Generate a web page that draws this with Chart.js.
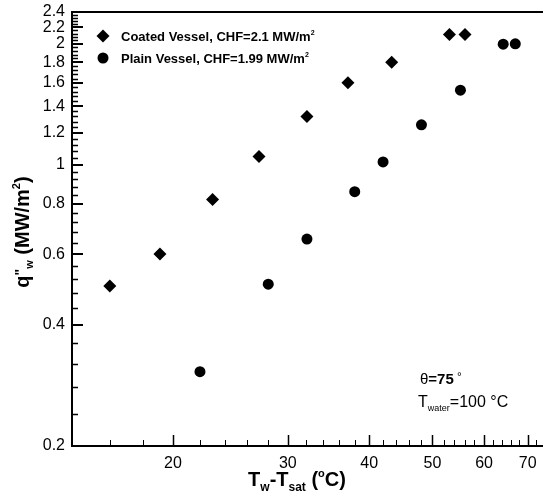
<!DOCTYPE html>
<html>
<head>
<meta charset="utf-8">
<script src="https://cdn.jsdelivr.net/npm/chart.js@4.4.1/dist/chart.umd.min.js"></script>
<style>
  html, body { margin: 0; padding: 0; background: #fff; overflow: hidden; }
  #wrap { width: 543px; height: 493px; overflow: hidden; }
</style>
</head>
<body>
<div id="wrap"><canvas id="boilChart" width="548" height="493"></canvas></div>
<script>
// wall superheat (C) and heat flux (MW/m2)
const coatedX = [16.0, 19.1, 23.0, 27.1, 32.1, 37.1, 43.3, 53.1, 56.1];
const coatedY = [0.50, 0.60, 0.82, 1.05, 1.32, 1.60, 1.80, 2.11, 2.11];
const plainX = [22.0, 28.0, 32.1, 38.0, 42.0, 48.1, 55.2, 64.2, 67.0];
const plainY = [0.306, 0.505, 0.654, 0.858, 1.017, 1.258, 1.534, 1.996, 2.0];

const xTickValues = [20, 30, 40, 50, 60, 70];
const xTickLabels = ['20', '30', '40', '50', '60', '70'];
const yTickValues = [0.2, 0.4, 0.6, 0.8, 1, 1.2, 1.4, 1.6, 1.8, 2, 2.2, 2.4];
const yTickLabels = ['0.2', '0.4', '0.6', '0.8', '1', '1.2', '1.4', '1.6', '1.8', '2', '2.2', '2.4'];

const seriesNames = ['Coated Vessel, CHF=2.1 MW/m', 'Plain Vessel, CHF=1.99 MW/m'];

const FONT = '"Liberation Sans", Arial, sans-serif';

// minor ticks: every 2 C on x, every 0.04 on y
const xMinor = [];
for (let v = 16; v <= 72; v += 2) {
  if (xTickValues.indexOf(v) < 0) xMinor.push(v);
}
const yMinor = [];
for (let i = 5; i <= 60; i++) {
  const v = Math.round(i * 4) / 100;
  if (i % 5 !== 0) yMinor.push(v);
}

function toPoints(xs, ys) {
  return xs.map((x, i) => ({ x: x, y: ys[i] }));
}

function font(size, bold) {
  return (bold ? 'bold ' : '') + size + 'px ' + FONT;
}

// draw a run of text pieces (normal / sub / sup), aligned around x
function drawRich(ctx, x, y, parts, align) {
  let total = 0;
  parts.forEach(p => {
    ctx.font = font(p.size, p.bold);
    p.w = ctx.measureText(p.t).width;
    total += p.w;
  });
  let cx = align === 'center' ? x - total / 2 : x;
  ctx.textAlign = 'left';
  ctx.textBaseline = 'alphabetic';
  parts.forEach(p => {
    ctx.font = font(p.size, p.bold);
    ctx.fillText(p.t, cx, y + (p.dy || 0));
    cx += p.w;
  });
}

const framePlugin = {
  id: 'frame',
  afterDraw(chart) {
    const ctx = chart.ctx;
    const a = chart.chartArea;
    const xs = chart.scales.x;
    const ys = chart.scales.y;
    ctx.save();
    ctx.strokeStyle = '#000';
    ctx.fillStyle = '#000';

    // axis box (right side runs off the page)
    ctx.lineWidth = 2;
    ctx.beginPath();
    ctx.moveTo(a.right + 5, a.top);
    ctx.lineTo(a.left, a.top);
    ctx.lineTo(a.left, a.bottom);
    ctx.lineTo(a.right + 5, a.bottom);
    ctx.stroke();

    // inward ticks
    ctx.lineWidth = 1.5;
    ctx.beginPath();
    xTickValues.forEach(v => {
      const px = Math.round(xs.getPixelForValue(v)) + 0.5;
      ctx.moveTo(px, a.bottom);
      ctx.lineTo(px, a.bottom - 11);
    });
    ctx.stroke();
    ctx.lineWidth = 1;
    ctx.beginPath();
    xMinor.forEach(v => {
      const px = Math.round(xs.getPixelForValue(v)) + 0.5;
      ctx.moveTo(px, a.bottom);
      ctx.lineTo(px, a.bottom - 6);
    });
    ctx.stroke();
    ctx.lineWidth = 2;
    ctx.beginPath();
    yTickValues.forEach(v => {
      const py = Math.round(ys.getPixelForValue(v));
      ctx.moveTo(a.left, py);
      ctx.lineTo(a.left + 11, py);
    });
    ctx.stroke();
    ctx.lineWidth = 1.5;
    ctx.beginPath();
    yMinor.forEach(v => {
      const py = Math.round(ys.getPixelForValue(v)) + 0.5;
      ctx.moveTo(a.left, py);
      ctx.lineTo(a.left + 6, py);
    });
    ctx.stroke();

    // legend
    const lx = 103;
    const rows = [36, 58];
    ctx.beginPath();
    ctx.moveTo(lx, rows[0] - 6.5);
    ctx.lineTo(lx + 6.5, rows[0]);
    ctx.lineTo(lx, rows[0] + 6.5);
    ctx.lineTo(lx - 6.5, rows[0]);
    ctx.closePath();
    ctx.fill();
    ctx.beginPath();
    ctx.arc(lx, rows[1], 5.5, 0, Math.PI * 2);
    ctx.fill();
    seriesNames.forEach((name, i) => {
      drawRich(ctx, 121, rows[i] + 4.5, [
        { t: name, size: 13, bold: true },
        { t: '2', size: 7, bold: true, dy: -6 }
      ], 'left');
    });

    // conditions note
    drawRich(ctx, 420, 384, [
      { t: '\u03b8', size: 15 },
      { t: '=75', size: 15, bold: true },
      { t: ' \u00b0', size: 12, dy: -3 }
    ], 'left');
    drawRich(ctx, 418, 407, [
      { t: 'T', size: 16 },
      { t: 'water', size: 9, dy: 4 },
      { t: '=100 \u00b0C', size: 16 }
    ], 'left');

    // x title
    drawRich(ctx, 297, 486, [
      { t: 'T', size: 20, bold: true },
      { t: 'w', size: 12, bold: true, dy: 5 },
      { t: '-T', size: 20, bold: true },
      { t: 'sat', size: 12, bold: true, dy: 5 },
      { t: ' (', size: 20, bold: true },
      { t: 'o', size: 11, bold: true, dy: -9 },
      { t: 'C)', size: 20, bold: true }
    ], 'center');

    // y title
    ctx.translate(29, 232);
    ctx.rotate(-Math.PI / 2);
    drawRich(ctx, 0, 0, [
      { t: 'q', size: 20, bold: true },
      { t: '"', size: 14, bold: true, dy: -4 },
      { t: 'w', size: 11, bold: true, dy: 4 },
      { t: ' (MW/m', size: 20, bold: true },
      { t: '2', size: 11, bold: true, dy: -9 },
      { t: ')', size: 20, bold: true }
    ], 'center');

    ctx.restore();
  }
};

const ctx = document.getElementById('boilChart').getContext('2d');
new Chart(ctx, {
  type: 'scatter',
  data: {
    datasets: [
      {
        label: seriesNames[0],
        data: toPoints(coatedX, coatedY),
        pointStyle: 'rectRot',
        pointRadius: 6.5,
        pointBackgroundColor: '#000',
        pointBorderColor: '#000',
        pointBorderWidth: 0,
      },
      {
        label: seriesNames[1],
        data: toPoints(plainX, plainY),
        pointStyle: 'circle',
        pointRadius: 5.5,
        pointBackgroundColor: '#000',
        pointBorderColor: '#000',
        pointBorderWidth: 0,
      },
    ],
  },
  options: {
    responsive: false,
    animation: false,
    layout: { padding: { top: 12, right: 0, left: 0, bottom: 0 } },
    plugins: {
      legend: { display: false },
      tooltip: { enabled: false },
    },
    scales: {
      x: {
        type: 'logarithmic',
        min: 14,
        max: 73.5,
        grid: { display: false, drawTicks: false },
        border: { display: false },
        afterBuildTicks: function (scale) {
          scale.ticks = xTickValues.map(v => ({ value: v }));
        },
        afterFit: function (scale) {
          scale.height = 47;
          scale.paddingLeft = 0;
          scale.paddingRight = 0;
        },
        ticks: {
          autoSkip: false,
          maxRotation: 0,
          padding: 8,
          color: '#000',
          font: { family: FONT, size: 16 },
          callback: function (value) {
            const i = xTickValues.indexOf(value);
            return i >= 0 ? xTickLabels[i] : '';
          },
        },
      },
      y: {
        type: 'logarithmic',
        min: 0.2,
        max: 2.4,
        grid: { display: false, drawTicks: false },
        border: { display: false },
        afterBuildTicks: function (scale) {
          scale.ticks = yTickValues.map(v => ({ value: v }));
        },
        afterFit: function (scale) {
          scale.width = 72;
          scale.paddingTop = 0;
          scale.paddingBottom = 0;
        },
        ticks: {
          autoSkip: false,
          padding: 7,
          color: '#000',
          font: { family: FONT, size: 16 },
          callback: function (value) {
            const i = yTickValues.indexOf(value);
            return i >= 0 ? yTickLabels[i] : '';
          },
        },
      },
    },
  },
  plugins: [framePlugin],
});
</script>
</body>
</html>
